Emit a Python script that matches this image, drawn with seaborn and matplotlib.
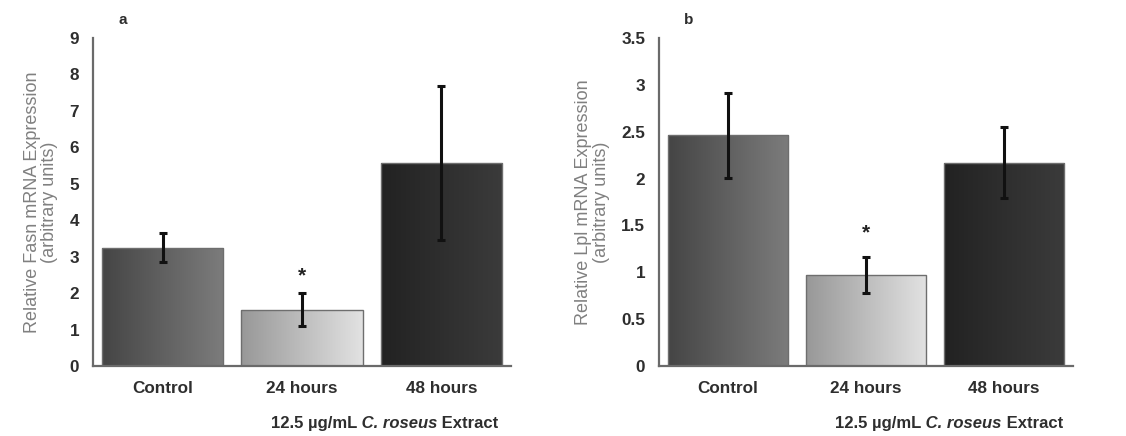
import numpy as np
import pandas as pd
import matplotlib
matplotlib.use("Agg")
import matplotlib.pyplot as plt
import seaborn as sns
from matplotlib.colors import LinearSegmentedColormap

# data
groups = ["Control", "24 hours", "48 hours"]
fasn_mean = [3.25, 1.55, 5.57]
fasn_err = [0.40, 0.45, 2.10]
lpl_mean = [2.46, 0.97, 2.17]
lpl_err = [0.45, 0.19, 0.38]
fasn_ticks = [0, 1, 2, 3, 4, 5, 6, 7, 8, 9]
lpl_ticks = [0, 0.5, 1, 1.5, 2, 2.5, 3, 3.5]
lpl_tick_labels = ["0", "0.5", "1", "1.5", "2", "2.5", "3", "3.5"]
star_group = "24 hours"
fasn_star = 2.47
lpl_star = 1.42

# gradient (left colour, right colour) per bar
grads = [("#454545", "#7c7c7c"), ("#989898", "#e2e2e2"), ("#222222", "#3b3b3b")]

sns.set_theme(style="white")
plt.rcParams["font.family"] = ["Liberation Sans", "DejaVu Sans"]

fig = plt.figure(figsize=(11.26, 4.36), dpi=100)
ax1 = fig.add_axes([93 / 1126, 70 / 436, 418 / 1126, 328 / 436])
ax2 = fig.add_axes([659 / 1126, 70 / 436, 414 / 1126, 328 / 436])

txt = "#2e2e2e"


def panel(ax, means, errs, ticks, ticklabels, ymax, star_y, ylabel, letter):
    df = pd.DataFrame({"group": groups, "value": means})
    sns.barplot(data=df, x="group", y="value", ax=ax, width=0.87,
                color="white", edgecolor="#6e6e6e", linewidth=1.0,
                errorbar=None)
    # gradient fills clipped to each bar
    for patch, (c0, c1) in zip(ax.patches, grads):
        x0, y0 = patch.get_x(), patch.get_y()
        w, h = patch.get_width(), patch.get_height()
        cmap = LinearSegmentedColormap.from_list("g", [c0, c1])
        im = ax.imshow(np.linspace(0, 1, 256).reshape(1, -1), cmap=cmap,
                       extent=[x0, x0 + w, y0, y0 + h], aspect="auto",
                       zorder=patch.get_zorder() - 0.1, interpolation="bilinear")
        im.set_clip_path(patch)
        patch.set_facecolor("none")
    ax.set_aspect("auto")
    ax.set_xlim(-0.5, 2.5)
    ax.set_ylim(0, ymax)
    ax.errorbar(range(len(groups)), means, yerr=errs, fmt="none",
                ecolor="#111111", elinewidth=2.2, capsize=3, capthick=2.2,
                zorder=5)
    ax.text(groups.index(star_group), star_y, "*", ha="center",
            va="center", fontsize=15, fontweight="bold", color="#222222")
    ax.set_yticks(ticks)
    ax.set_yticklabels(ticklabels)
    for lab in ax.get_yticklabels() + ax.get_xticklabels():
        lab.set_fontweight("bold")
        lab.set_fontsize(12.3)
        lab.set_color(txt)
    ax.tick_params(axis="y", length=0, pad=10)
    ax.tick_params(axis="x", length=0, pad=11)
    ax.set_xlabel("")
    ax.set_ylabel(ylabel, fontsize=13, color="#808080", labelpad=8,
                  linespacing=1.05)
    sns.despine(ax=ax)
    for side in ["left", "bottom"]:
        ax.spines[side].set_color("#6a6a6a")
        ax.spines[side].set_linewidth(1.6)
    ax.text(0.06, 1.035, letter, transform=ax.transAxes, fontsize=11,
            fontweight="bold", color=txt, ha="left", va="bottom")
    # treatment label: bold, with the species name in bold italic
    t1 = ax.text(0.425, -0.175, "12.5 \u00b5g/mL", transform=ax.transAxes,
                 fontsize=12, fontweight="bold", color=txt,
                 ha="left", va="center")
    t2 = ax.annotate(" C. roseus", xy=(1, 0), xycoords=t1, va="bottom",
                     ha="left", fontsize=12, fontweight="bold",
                     fontstyle="italic", color=txt)
    ax.annotate(" Extract", xy=(1, 0), xycoords=t2, va="bottom", ha="left",
                fontsize=12, fontweight="bold", color=txt)


panel(ax1, fasn_mean, fasn_err, fasn_ticks, [str(t) for t in fasn_ticks], 9,
      fasn_star, "Relative Fasn mRNA Expression\n(arbitrary units)", "a")
panel(ax2, lpl_mean, lpl_err, lpl_ticks, lpl_tick_labels, 3.5,
      lpl_star, "Relative Lpl mRNA Expression\n(arbitrary units)", "b")

fig.savefig("out.png", dpi=100)
